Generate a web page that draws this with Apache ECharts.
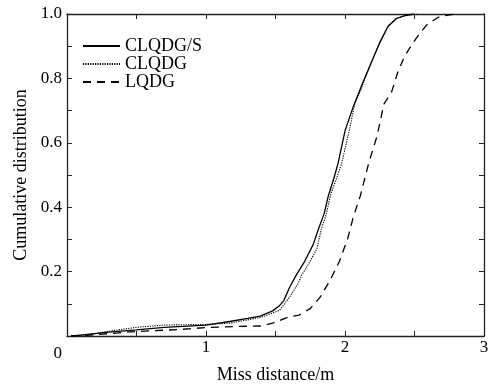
<!DOCTYPE html>
<html>
<head>
<meta charset="UTF-8">
<title>Cumulative distribution</title>
<script src="https://cdn.jsdelivr.net/npm/echarts@6/dist/echarts.min.js"></script>
<style>
  html, body { margin: 0; padding: 0; background: #fff; }
</style>
</head>
<body>
<div id="chart" style="width:493px;height:389px;"></div>
<script>
// 数据：[脱靶量/m, 累积分布]
var seriesNames = ['CLQDG/S', 'CLQDG', 'LQDG'];
var clqdgS = [[0.03,0],[0.1,0.003],[0.3,0.012],[0.5,0.019],[0.7,0.027],[1.0,0.034],[1.17,0.045],[1.3,0.055],[1.39,0.062],[1.48,0.078],[1.53,0.095],[1.56,0.11],[1.6,0.15],[1.65,0.19],[1.71,0.232],[1.77,0.283],[1.81,0.333],[1.85,0.38],[1.88,0.435],[1.92,0.49],[1.95,0.536],[2.0,0.637],[2.06,0.713],[2.13,0.789],[2.19,0.85],[2.25,0.911],[2.31,0.962],[2.37,0.986],[2.43,0.995],[2.5,1.0]];
var clqdg = [[0.03,0],[0.15,0.004],[0.3,0.015],[0.5,0.027],[0.7,0.034],[1.0,0.036],[1.17,0.04],[1.3,0.05],[1.41,0.06],[1.53,0.08],[1.6,0.12],[1.66,0.161],[1.69,0.19],[1.75,0.232],[1.8,0.273],[1.83,0.333],[1.86,0.37],[1.9,0.445],[1.94,0.49],[1.976,0.536],[2.03,0.637],[2.07,0.72],[2.1,0.75],[2.144,0.8],[2.19,0.85],[2.25,0.911],[2.31,0.962],[2.37,0.986],[2.45,0.997],[2.52,1.0]];
var lqdg = [[0.03,0],[0.2,0.004],[0.5,0.014],[0.8,0.02],[1.0,0.026],[1.245,0.03],[1.39,0.031],[1.48,0.04],[1.6,0.06],[1.67,0.065],[1.75,0.085],[1.82,0.12],[1.89,0.171],[1.96,0.232],[2.02,0.303],[2.06,0.37],[2.11,0.435],[2.17,0.536],[2.23,0.62],[2.28,0.72],[2.336,0.759],[2.38,0.82],[2.43,0.87],[2.49,0.911],[2.54,0.941],[2.59,0.967],[2.68,0.992],[2.79,1.0]];

var font = '"Liberation Serif", "Times New Roman", serif';
var myChart = echarts.init(document.getElementById('chart'));

function lineSeries(name, data, type, width) {
    return {
        name: name,
        type: 'line',
        data: data,
        symbol: 'none',
        color: '#000',
        animation: false,
        lineStyle: { color: '#000', width: width, type: type }
    };
}

var axisLine = { show: true, onZero: false, lineStyle: { color: '#222', width: 1.3 } };
var ticks = { show: true, inside: true, length: 5, lineStyle: { color: '#222' } };

var option = {
    backgroundColor: '#fff',
    grid: { left: 67, right: 9, top: 14, bottom: 46 },
    legend: {
        data: seriesNames,
        orient: 'vertical',
        left: 77,
        top: 32,
        itemWidth: 37,
        itemHeight: 10,
        itemGap: 0,
        itemStyle: { color: 'transparent', borderColor: 'transparent', borderWidth: 0 },
        textStyle: { fontFamily: font, fontSize: 18, color: '#000' }
    },
    xAxis: [
        {
            type: 'value', min: 0, max: 3, interval: 0.5,
            name: 'Miss distance/m', nameLocation: 'middle', nameGap: 30,
            nameTextStyle: { fontFamily: font, fontSize: 18, color: '#000' },
            axisLine: axisLine, axisTick: ticks, splitLine: { show: false },
            axisLabel: {
                fontFamily: font, fontSize: 17, color: '#000', margin: 3,
                formatter: function (v) { return (v > 0 && v % 1 === 0) ? String(v) : ''; }
            }
        },
        {
            type: 'value', min: 0, max: 3, interval: 0.5, position: 'top',
            axisLine: axisLine, axisTick: ticks, splitLine: { show: false },
            axisLabel: { show: false }
        }
    ],
    yAxis: [
        {
            type: 'value', min: 0, max: 1, interval: 0.1,
            name: 'Cumulative distribution', nameLocation: 'middle', nameGap: 37,
            nameTextStyle: { fontFamily: font, fontSize: 18, color: '#000' },
            axisLine: axisLine, axisTick: ticks, splitLine: { show: false },
            axisLabel: {
                fontFamily: font, fontSize: 17, color: '#000', margin: 5,
                formatter: function (v) {
                    var k = Math.round(v * 10);
                    if (k % 2 !== 0) return '';
                    if (k === 0) return '{o|0}';
                    return (k / 10).toFixed(1);
                },
                rich: { o: { fontFamily: font, fontSize: 17, color: '#000', padding: [36, 0, 0, 0] } }
            }
        },
        {
            type: 'value', min: 0, max: 1, interval: 0.1, position: 'right',
            axisLine: axisLine, axisTick: ticks, splitLine: { show: false },
            axisLabel: { show: false }
        }
    ],
    series: [
        lineSeries(seriesNames[0], clqdgS, 'solid', 1.3),
        lineSeries(seriesNames[1], clqdg, [1.2, 1.2], 1.1),
        lineSeries(seriesNames[2], lqdg, [8, 6], 1.3)
    ]
};

myChart.setOption(option);
</script>
</body>
</html>
